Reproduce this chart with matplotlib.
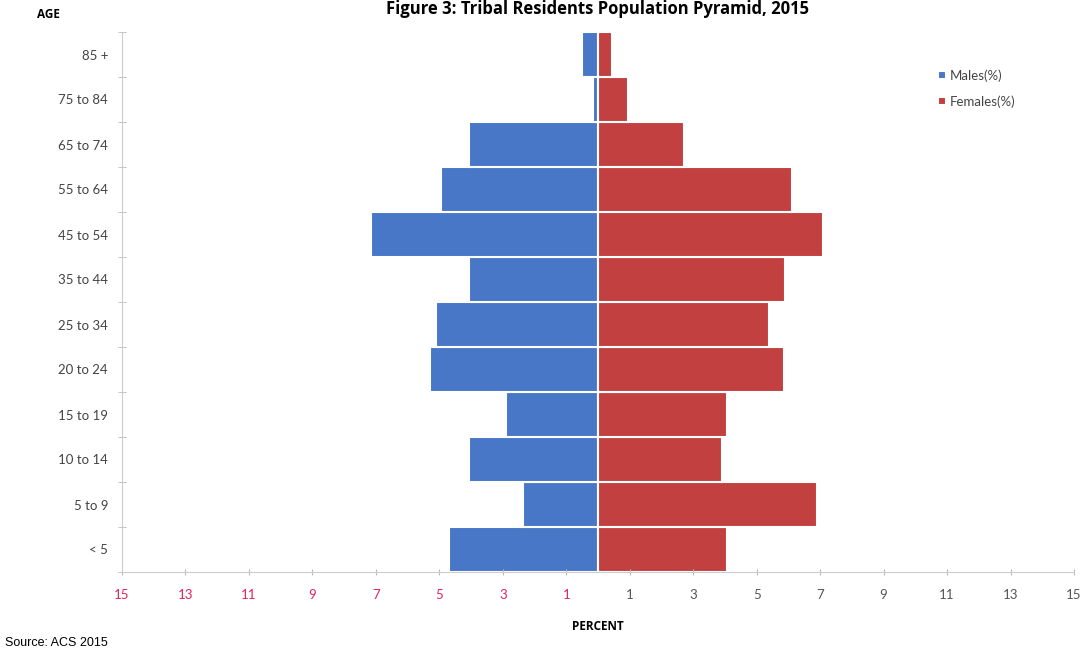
import numpy as np
import matplotlib.pyplot as plt

# --- data (percent of population) ---
age_groups = ['< 5', '5 to 9', '10 to 14', '15 to 19', '20 to 24', '25 to 34',
              '35 to 44', '45 to 54', '55 to 64', '65 to 74', '75 to 84', '85 +']
males = [4.7, 2.35, 4.05, 2.9, 5.3, 5.1, 4.05, 7.15, 4.95, 4.05, 0.15, 0.5]
females = [4.05, 6.9, 3.9, 4.05, 5.85, 5.4, 5.9, 7.1, 6.1, 2.7, 0.95, 0.45]
tick_vals = [-15, -13, -11, -9, -7, -5, -3, -1, 1, 3, 5, 7, 9, 11, 13, 15]

blue = '#4777C6'
red = '#C2403F'

fig = plt.figure(figsize=(10.91, 6.55), dpi=100)
ax = fig.add_axes([122 / 1091, 1 - 572 / 655, 952 / 1091, 540 / 655])

y = np.arange(len(age_groups))
ax.barh(y, [-m for m in males], height=1.0, color=blue, edgecolor='white', linewidth=1.5, label='Males(%)')
ax.barh(y, females, height=1.0, color=red, edgecolor='white', linewidth=1.5, label='Females(%)')

ax.set_xlim(-15, 15)
ax.set_ylim(-0.5, len(age_groups) - 0.5)

# x ticks: absolute values, left side in pink/red
ax.set_xticks(tick_vals)
ax.set_xticklabels([str(abs(v)) for v in tick_vals], fontsize=9.5, family='Lato')
for lbl, v in zip(ax.get_xticklabels(), tick_vals):
    lbl.set_color('#E0245E' if v < 0 else '#555555')
ax.tick_params(axis='x', length=5, direction='inout', color='#BBBBBB', pad=10)

# y ticks: labels at centers, marks between categories
ax.set_yticks(y)
ax.set_yticklabels(age_groups, fontsize=9.5, family='Lato', color='#444444')
ax.tick_params(axis='y', which='major', length=0, pad=10)
ax.set_yticks(np.arange(-0.5, len(age_groups), 1.0), minor=True)
ax.tick_params(axis='y', which='minor', length=6, direction='inout', color='#BBBBBB')

for s in ['top', 'right']:
    ax.spines[s].set_visible(False)
for s in ['left', 'bottom']:
    ax.spines[s].set_color('#CCCCCC')

leg = ax.legend(loc='upper left', bbox_to_anchor=(0.845, 0.953), frameon=False,
                handlelength=0.6, handleheight=0.6, handletextpad=0.3,
                labelspacing=1.0, prop={'family': 'Lato', 'size': 9.5})
for t in leg.get_texts():
    t.set_color('#444444')

fig.text(598 / 1091, 1 - 18 / 655, 'Figure 3: Tribal Residents Population Pyramid, 2015',
         ha='center', va='bottom', fontsize=12, fontweight='bold', family='Open Sans')
fig.text(48 / 1091, 1 - 14 / 655, 'AGE', ha='center', va='center',
         fontsize=8.5, fontweight='bold', family='Open Sans')
fig.text(598 / 1091, 1 - 626 / 655, 'PERCENT', ha='center', va='center',
         fontsize=8.5, fontweight='bold', family='Open Sans')
fig.text(5 / 1091, 1 - 643 / 655, 'Source: ACS 2015', ha='left', va='center',
         fontsize=9, family='Liberation Sans')

plt.savefig('out.png', dpi=100)
